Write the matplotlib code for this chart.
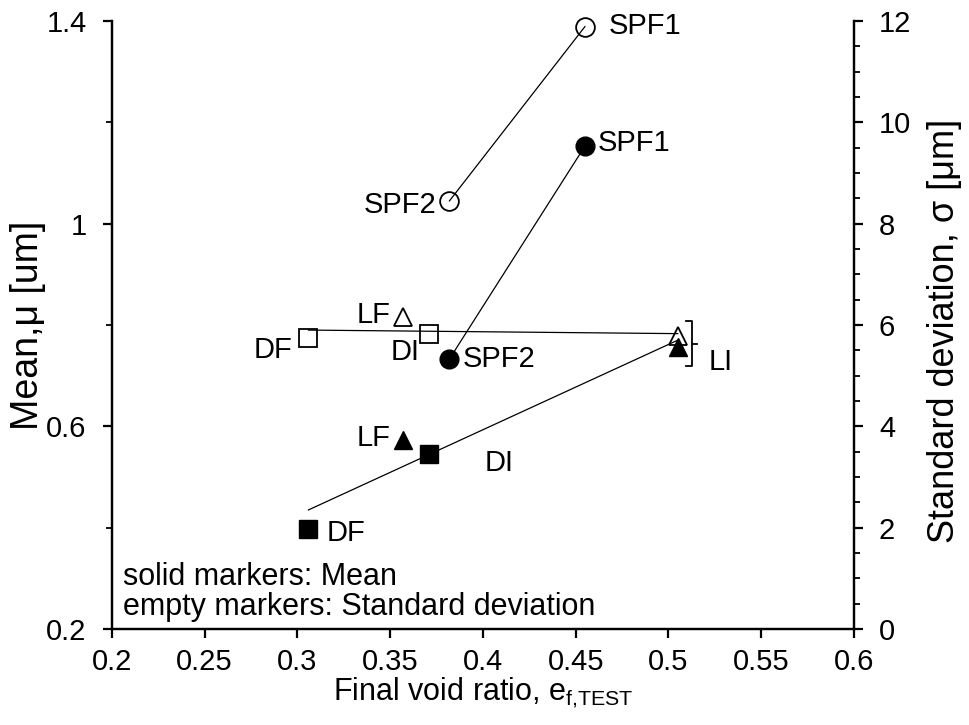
import matplotlib

matplotlib.use("Agg")
import matplotlib.pyplot as plt
import numpy as np
from matplotlib.ticker import MultipleLocator, FixedLocator, FuncFormatter

plt.rcParams["font.family"] = ["Liberation Sans", "DejaVu Sans"]

# final void ratio per specimen
specimens = ["DF", "DI", "LF", "LI", "SPF2", "SPF1"]
void_ratio = [0.306, 0.371, 0.357, 0.505, 0.382, 0.455]
mean_um = [0.397, 0.545, 0.573, 0.757, 0.733, 1.153]
std_um = [5.74, 5.82, 6.16, 5.78, 8.45, 11.89]
markers = ["s", "s", "^", "^", "o", "o"]

# linear trend over DF, LF, DI, LI (read at the two ends)
trend_e = [0.306, 0.505]
trend_mean = [0.435, 0.770]
trend_std = [5.90, 5.83]

x = dict(zip(specimens, void_ratio))
mu = dict(zip(specimens, mean_um))
sd = dict(zip(specimens, std_um))
mk = dict(zip(specimens, markers))

fig = plt.figure(figsize=(9.69, 7.25), dpi=100)
ax = fig.add_axes([0.1153, 0.1324, 0.7660, 0.8386])
ax2 = ax.twinx()

# connecting lines
ax.plot(trend_e, trend_mean, color="black", lw=0.9, zorder=1)
ax2.plot(trend_e, trend_std, color="black", lw=0.9, zorder=1)
ax.plot([x["SPF2"], x["SPF1"]], [mu["SPF2"], mu["SPF1"]], color="black", lw=0.9, zorder=1)
ax2.plot([x["SPF2"], x["SPF1"]], [sd["SPF2"], sd["SPF1"]], color="black", lw=0.9, zorder=1)

for name in specimens:
    ax.plot(x[name], mu[name], marker=mk[name], ms=13.5, color="black",
            linestyle="none", zorder=3, clip_on=False)
    ax2.plot(x[name], sd[name], marker=mk[name], ms=13.5, markerfacecolor="none",
             markeredgecolor="black", markeredgewidth=1.3, linestyle="none",
             zorder=3, clip_on=False)

fs = 21
# mean labels
ax.text(0.462, 1.159, "SPF1", fontsize=fs, ha="left", va="center")
ax.text(0.389, 0.733, "SPF2", fontsize=fs, ha="left", va="center")
ax.text(0.350, 0.577, "LF", fontsize=fs, ha="right", va="center")
ax.text(0.401, 0.528, "DI", fontsize=fs, ha="left", va="center")
ax.text(0.316, 0.389, "DF", fontsize=fs, ha="left", va="center")
# std labels
ax2.text(0.468, 11.9, "SPF1", fontsize=fs, ha="left", va="center")
ax2.text(0.375, 8.37, "SPF2", fontsize=fs, ha="right", va="center")
ax2.text(0.350, 6.20, "LF", fontsize=fs, ha="right", va="center")
ax2.text(0.3657, 5.47, "DI", fontsize=fs, ha="right", va="center")
ax2.text(0.2972, 5.51, "DF", fontsize=fs, ha="right", va="center")

# bracket grouping the two LI markers
bx0, bx1, bx2 = x["LI"] + 0.0046, x["LI"] + 0.0078, x["LI"] + 0.0105
btop, bbot = sd["LI"] + 0.30, sd["LI"] - 0.59
bmid = (btop + bbot) / 2
ax2.plot([bx0, bx1, bx1, bx0], [btop, btop, bbot, bbot], color="black", lw=1.3)
ax2.plot([bx1, bx2], [bmid, bmid], color="black", lw=1.3)
ax2.text(0.5215, 5.27, "LI", fontsize=fs, ha="left", va="center")

ax.text(0.015, 0.0724, "solid markers: Mean", transform=ax.transAxes,
        fontsize=22, ha="left", va="baseline")
ax.text(0.015, 0.023, "empty markers: Standard deviation", transform=ax.transAxes,
        fontsize=22, ha="left", va="baseline")

# axes
ax.set_xlim(0.2, 0.6)
ax.set_ylim(0.2, 1.4)
ax2.set_ylim(0, 12)
ax.xaxis.set_major_locator(MultipleLocator(0.05))
ax.xaxis.set_major_formatter(FuncFormatter(lambda v, p: f"{v:g}"))
ax.yaxis.set_major_locator(FixedLocator([0.2, 0.6, 1.0, 1.4]))
ax.yaxis.set_minor_locator(FixedLocator([0.4, 0.8, 1.2]))
ax.yaxis.set_major_formatter(FuncFormatter(lambda v, p: f"{v:g}"))
ax2.yaxis.set_major_locator(MultipleLocator(2))
ax2.yaxis.set_minor_locator(MultipleLocator(0.5))

for a in (ax, ax2):
    a.spines["top"].set_visible(False)
    for s in a.spines.values():
        s.set_linewidth(1.6)
    a.tick_params(which="major", direction="out", length=6.5, width=1.6, labelsize=21)
    a.tick_params(which="minor", direction="out", length=4.5, width=1.3)
ax.tick_params(axis="x", which="major", pad=7.5)
ax.tick_params(axis="y", which="major", pad=11.5)
ax2.tick_params(axis="y", which="major", pad=11.5)

ax.set_xlabel("Final void ratio, $\\mathregular{e_{f{,}TEST}}$", fontsize=22)
ax.set_ylabel("Mean,μ [um]", fontsize=27)
ax2.set_ylabel("Standard deviation, σ [μm]", fontsize=26)
ax.xaxis.set_label_coords(0.5, -0.0773)
ax.yaxis.set_label_coords(-0.089, 0.5)
ax2.yaxis.set_label_coords(1.098, 0.49)

fig.savefig("out.png", dpi=100)
